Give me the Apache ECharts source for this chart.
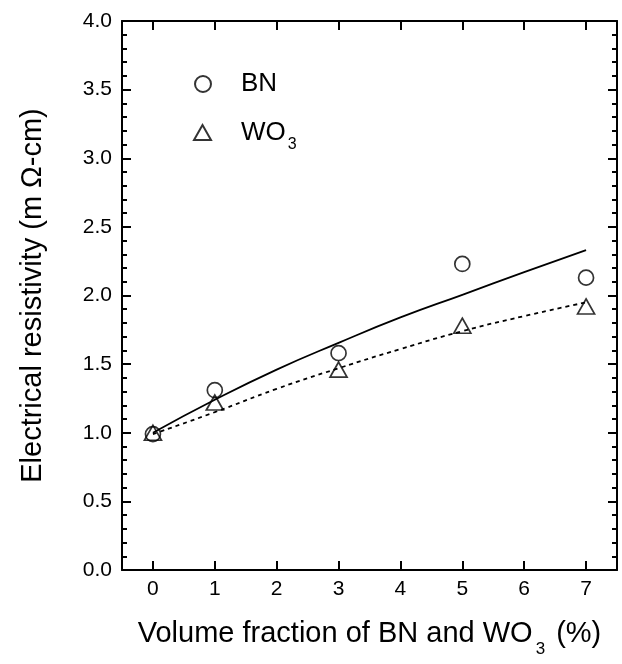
<!DOCTYPE html>
<html>
<head>
<meta charset="utf-8">
<script src="https://cdn.jsdelivr.net/npm/echarts@6/dist/echarts.min.js"></script>
<style>html,body{margin:0;padding:0;background:#fff;}#c{width:622px;height:664px;}</style>
</head>
<body>
<div id="c"></div>
<script>
const xTicks = [0, 1, 2, 3, 4, 5, 6, 7];
const xPoints = [0, 1, 3, 5, 7];
const bnValues = [0.99, 1.31, 1.58, 2.23, 2.13];
const wo3Values = [1.00, 1.22, 1.46, 1.78, 1.92];
const fitX = [0, 1, 2, 3, 4, 5, 6, 7];
const bnFit = [1.00, 1.24, 1.46, 1.655, 1.84, 2.005, 2.17, 2.33];
const wo3Fit = [0.99, 1.15, 1.32, 1.47, 1.61, 1.74, 1.85, 1.95];

const FONT = 'Liberation Sans';
const pair = (xs, ys) => xs.map((x, i) => [x, ys[i]]);

const chart = echarts.init(document.getElementById('c'), null, {renderer: 'canvas'});
const axisLine = {show: true, onZero: false, lineStyle: {color: '#000', width: 2}};
chart.setOption({
  animation: false,
  backgroundColor: '#fff',
  grid: {left: 122, right: 5, top: 21, bottom: 94, containLabel: false},
  xAxis: [{
    type: 'value', min: -0.5, max: 7.5, position: 'bottom',
    axisLine: axisLine,
    splitLine: {show: false},
    axisTick: {show: true, inside: true, length: 9, lineStyle: {color: '#000', width: 2}, customValues: xTicks},
    axisLabel: {show: true, customValues: xTicks, margin: 9, fontSize: 21, color: '#000', fontFamily: FONT},
    name: '{a|Volume fraction of BN and WO}{b|3}{a| (%)}',
    nameLocation: 'middle', nameGap: 48,
    nameTextStyle: {rich: {
      a: {fontSize: 29, fontFamily: FONT, color: '#000', lineHeight: 32},
      b: {fontSize: 17, fontFamily: FONT, color: '#000', padding: [30, 3, 0, 3], lineHeight: 17}
    }}
  }, {
    type: 'value', min: -0.5, max: 7.5, position: 'top',
    axisLine: axisLine, splitLine: {show: false},
    axisTick: {show: true, inside: true, length: 9, lineStyle: {color: '#000', width: 2}, customValues: xTicks},
    axisLabel: {show: false}
  }],
  yAxis: [{
    type: 'value', min: 0, max: 4, interval: 0.5, position: 'left',
    axisLine: axisLine, splitLine: {show: false},
    axisTick: {show: true, inside: true, length: 9, lineStyle: {color: '#000', width: 2}},
    minorTick: {show: true, splitNumber: 5, length: 5, lineStyle: {color: '#000', width: 2}},
    axisLabel: {margin: 10, fontSize: 21, color: '#000', fontFamily: FONT, formatter: v => v.toFixed(1)},
    name: 'Electrical resistivity (m Ω-cm)',
    nameLocation: 'middle', nameGap: 75,
    nameTextStyle: {fontSize: 29, fontFamily: FONT, color: '#000'}
  }, {
    type: 'value', min: 0, max: 4, interval: 0.5, position: 'right',
    axisLine: axisLine, splitLine: {show: false},
    axisTick: {show: true, inside: true, length: 9, lineStyle: {color: '#000', width: 2}},
    minorTick: {show: true, splitNumber: 5, length: 5, lineStyle: {color: '#000', width: 2}},
    axisLabel: {show: false}
  }],
  legend: [{
    data: ['BN'], left: 189, top: 66, orient: 'vertical', selectedMode: false,
    itemWidth: 16, itemHeight: 16,
    textStyle: {fontSize: 26, fontFamily: FONT, color: '#000', padding: [0, 0, 0, 25]}
  }, {
    data: ['WO3'], left: 188, top: 107, orient: 'vertical', selectedMode: false,
    itemWidth: 17, itemHeight: 15,
    formatter: () => '{a|WO}{b|3}',
    textStyle: {color: '#000', padding: [0, 0, 0, 25], rich: {
      a: {fontSize: 26, fontFamily: FONT, color: '#000', lineHeight: 30},
      b: {fontSize: 16, fontFamily: FONT, color: '#000', padding: [25, 0, 0, 2], lineHeight: 16}
    }}
  }],
  series: [{
    name: 'BN fit', type: 'line', smooth: true, showSymbol: false, symbol: 'none',
    data: pair(fitX, bnFit), lineStyle: {color: '#000', width: 1.8}, z: 2
  }, {
    name: 'WO3 fit', type: 'line', smooth: true, showSymbol: false, symbol: 'none',
    data: pair(fitX, wo3Fit), lineStyle: {color: '#000', width: 1.8, type: [4, 4]}, z: 2
  }, {
    name: 'BN', type: 'scatter', symbol: 'circle', symbolSize: 15,
    data: pair(xPoints, bnValues),
    itemStyle: {color: 'rgba(255,255,255,0)', borderColor: '#000', borderWidth: 1.7}, z: 3
  }, {
    name: 'WO3', type: 'scatter', symbol: 'triangle', symbolSize: [17, 15],
    data: pair(xPoints, wo3Values),
    itemStyle: {color: 'rgba(255,255,255,0)', borderColor: '#000', borderWidth: 1.7}, z: 3
  }]
});
</script>
</body>
</html>
